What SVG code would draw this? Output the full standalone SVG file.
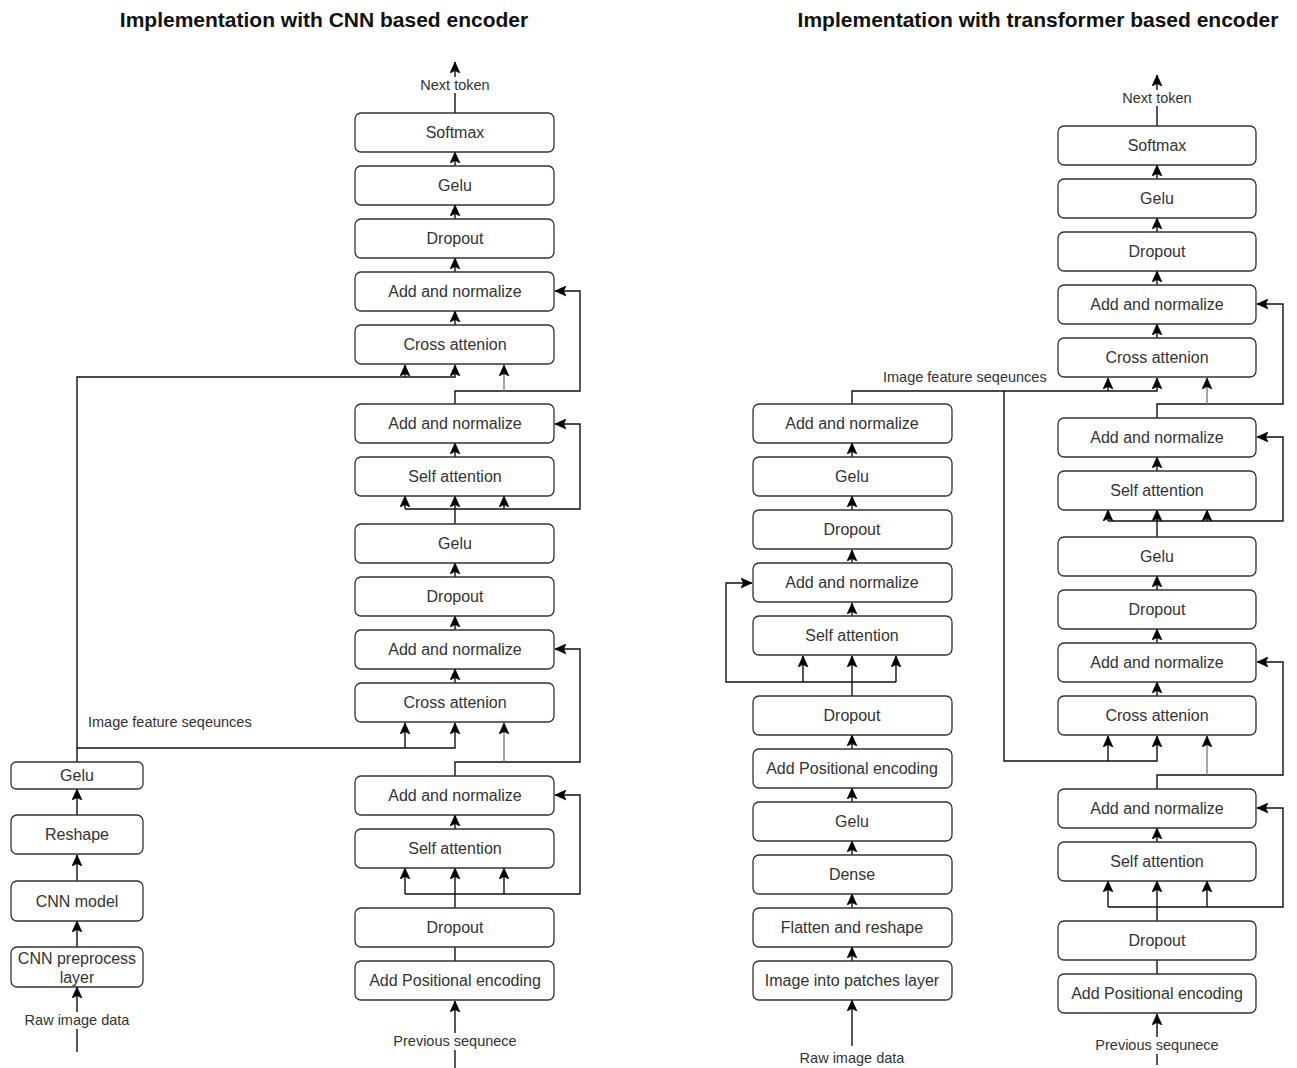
<svg xmlns="http://www.w3.org/2000/svg" width="1297" height="1068" viewBox="0 0 1297 1068">
  <style>
    .box rect { fill: #fff; stroke: #333; stroke-width: 1.3; }
    .box text, .lbl { font-family: "Liberation Sans", Arial, Helvetica, sans-serif; fill: #333; text-anchor: middle; dominant-baseline: central; }
    .box text { font-size: 16px; }
    .lbl { font-size: 14.5px; }
    .title { font-family: "Liberation Sans", Arial, Helvetica, sans-serif; font-size: 21px; font-weight: bold; fill: #111; text-anchor: middle; dominant-baseline: central; }
    .edge { fill: none; stroke: #111; stroke-width: 1.4; }
    .gray { stroke: #808080; }
    .arr { marker-end: url(#ah); }
  </style>
  <defs>
    <marker id="ah" viewBox="0 0 10 10" refX="10" refY="5" markerWidth="11" markerHeight="11" orient="auto" markerUnits="userSpaceOnUse">
      <path d="M0,0.5 L10,5 L0,9.5 L2.2,5 Z" fill="#000" stroke="#000" stroke-width="0.6" stroke-linejoin="miter"/>
    </marker>
  </defs>
  <rect width="1297" height="1068" fill="#fff"/>

  <!-- headings -->
  <text class="title" x="324" y="19">Implementation with CNN based encoder</text>
  <text class="title" x="1038" y="19">Implementation with transformer based encoder</text>

  <!-- connectors -->
  <g id="connectors">
    <!-- CNN encoder stack -->
    <path class="edge arr" d="M77,1052 V987"/>
    <path class="edge arr" d="M77,947 V921"/>
    <path class="edge arr" d="M77,881 V855"/>
    <path class="edge arr" d="M77,815 V789"/>
    <path class="edge arr" d="M77,762 V377 H455 V365"/>
    <path class="edge arr" d="M405,377 V365"/>
    <path class="edge arr" d="M77,748 H455 V723"/>
    <path class="edge arr" d="M405,748 V723"/>

    <!-- CNN decoder stack -->
    <path class="edge arr" d="M455,1068 V1001"/>
    <path class="edge" d="M455,961 V947"/>
    <path class="edge arr" d="M455,908 V868"/>
    <path class="edge arr" d="M405,894 H580 V795 H555"/>
    <path class="edge arr" d="M405,894 V868"/>
    <path class="edge arr" d="M504,894 V868"/>
    <path class="edge arr" d="M455,829 V815"/>
    <path class="edge arr" d="M455,776 V762 H580 V649 H555"/>
    <path class="edge gray arr" d="M504,762 V723"/>
    <path class="edge arr" d="M455,683 V669"/>
    <path class="edge arr" d="M455,630 V616"/>
    <path class="edge arr" d="M455,577 V563"/>
    <path class="edge arr" d="M455,524 V496"/>
    <path class="edge arr" d="M405,509 H580 V424 H555"/>
    <path class="edge arr" d="M405,509 V496"/>
    <path class="edge arr" d="M504,509 V496"/>
    <path class="edge arr" d="M455,457 V443"/>
    <path class="edge arr" d="M455,404 V391 H580 V291 H555"/>
    <path class="edge gray arr" d="M504,391 V365"/>
    <path class="edge arr" d="M455,325 V311"/>
    <path class="edge arr" d="M455,272 V258"/>
    <path class="edge arr" d="M455,219 V205"/>
    <path class="edge arr" d="M455,166 V152"/>
    <path class="edge arr" d="M455,113 V62"/>

    <!-- transformer encoder stack -->
    <path class="edge arr" d="M852,1046 V1000"/>
    <path class="edge arr" d="M852,961 V947"/>
    <path class="edge arr" d="M852,908 V894"/>
    <path class="edge arr" d="M852,855 V841"/>
    <path class="edge arr" d="M852,802 V788"/>
    <path class="edge arr" d="M852,749 V735"/>
    <path class="edge arr" d="M852,696 V656"/>
    <path class="edge arr" d="M896,682 H726 V583 H752"/>
    <path class="edge arr" d="M803,682 V656"/>
    <path class="edge arr" d="M896,682 V656"/>
    <path class="edge arr" d="M852,616 V603"/>
    <path class="edge arr" d="M852,563 V550"/>
    <path class="edge arr" d="M852,510 V496"/>
    <path class="edge arr" d="M852,457 V443"/>
    <path class="edge arr" d="M852,404 V391 H1157 V378"/>
    <path class="edge arr" d="M1108,391 V378"/>
    <path class="edge arr" d="M1004,391 V761 H1157 V736"/>
    <path class="edge arr" d="M1108,761 V736"/>

    <!-- transformer decoder stack -->
    <path class="edge arr" d="M1157,1065 V1014"/>
    <path class="edge" d="M1157,974 V960"/>
    <path class="edge arr" d="M1157,921 V881"/>
    <path class="edge arr" d="M1108,907 H1283 V808 H1257"/>
    <path class="edge arr" d="M1108,907 V881"/>
    <path class="edge arr" d="M1207,907 V881"/>
    <path class="edge arr" d="M1157,842 V828"/>
    <path class="edge arr" d="M1157,789 V775 H1283 V662 H1257"/>
    <path class="edge gray arr" d="M1207,775 V736"/>
    <path class="edge arr" d="M1157,696 V682"/>
    <path class="edge arr" d="M1157,643 V629"/>
    <path class="edge arr" d="M1157,590 V576"/>
    <path class="edge arr" d="M1157,537 V510"/>
    <path class="edge arr" d="M1108,521 H1283 V437 H1257"/>
    <path class="edge arr" d="M1108,521 V510"/>
    <path class="edge arr" d="M1207,521 V510"/>
    <path class="edge arr" d="M1157,471 V457"/>
    <path class="edge arr" d="M1157,418 V404 H1283 V304 H1257"/>
    <path class="edge gray arr" d="M1207,404 V378"/>
    <path class="edge arr" d="M1157,338 V324"/>
    <path class="edge arr" d="M1157,285 V271"/>
    <path class="edge arr" d="M1157,232 V218"/>
    <path class="edge arr" d="M1157,179 V165"/>
    <path class="edge arr" d="M1157,126 V75"/>

    <!-- edge labels -->
    <rect x="418" y="77" width="74" height="16" fill="#fff"/>
    <text class="lbl" x="455" y="85">Next token</text>
    <rect x="391" y="1033" width="128" height="17" fill="#fff"/>
    <text class="lbl" x="455" y="1041">Previous sequnece</text>
    <rect x="22" y="1012" width="110" height="17" fill="#fff"/>
    <text class="lbl" x="77" y="1020">Raw image data</text>
    <text class="lbl" x="88" y="722" style="text-anchor:start">Image feature seqeunces</text>
    <rect x="1120" y="90" width="74" height="16" fill="#fff"/>
    <text class="lbl" x="1157" y="98">Next token</text>
    <rect x="1093" y="1037" width="128" height="17" fill="#fff"/>
    <text class="lbl" x="1157" y="1045">Previous sequnece</text>
    <text class="lbl" x="852" y="1058">Raw image data</text>
    <text class="lbl" x="883" y="377" style="text-anchor:start">Image feature seqeunces</text>
  </g>

  <!-- CNN encoder nodes -->
  <g id="cnn-gelu" class="box"><rect x="11" y="762" width="132" height="27" rx="5"/><text x="77" y="775.5">Gelu</text></g>
  <g id="cnn-reshape" class="box"><rect x="11" y="815" width="132" height="39" rx="6"/><text x="77" y="834.5">Reshape</text></g>
  <g id="cnn-model" class="box"><rect x="11" y="881" width="132" height="40" rx="6"/><text x="77" y="901">CNN model</text></g>
  <g id="cnn-preprocess" class="box"><rect x="11" y="947" width="132" height="40" rx="6"/><text x="77" y="958">CNN preprocess</text><text x="77" y="977">layer</text></g>

  <!-- CNN decoder nodes -->
  <g id="d1-softmax" class="box"><rect x="355" y="113" width="199" height="39" rx="6"/><text x="455" y="132.5">Softmax</text></g>
  <g id="d1-gelu-out" class="box"><rect x="355" y="166" width="199" height="39" rx="6"/><text x="455" y="185.5">Gelu</text></g>
  <g id="d1-dropout-out" class="box"><rect x="355" y="219" width="199" height="39" rx="6"/><text x="455" y="238.5">Dropout</text></g>
  <g id="d1-addnorm-4" class="box"><rect x="355" y="272" width="199" height="39" rx="6"/><text x="455" y="291.5">Add and normalize</text></g>
  <g id="d1-cross-2" class="box"><rect x="355" y="325" width="199" height="39" rx="6"/><text x="455" y="344.5">Cross attenion</text></g>
  <g id="d1-addnorm-3" class="box"><rect x="355" y="404" width="199" height="39" rx="6"/><text x="455" y="423.5">Add and normalize</text></g>
  <g id="d1-self-2" class="box"><rect x="355" y="457" width="199" height="39" rx="6"/><text x="455" y="476.5">Self attention</text></g>
  <g id="d1-gelu" class="box"><rect x="355" y="524" width="199" height="39" rx="6"/><text x="455" y="543.5">Gelu</text></g>
  <g id="d1-dropout-mid" class="box"><rect x="355" y="577" width="199" height="39" rx="6"/><text x="455" y="596.5">Dropout</text></g>
  <g id="d1-addnorm-2" class="box"><rect x="355" y="630" width="199" height="39" rx="6"/><text x="455" y="649.5">Add and normalize</text></g>
  <g id="d1-cross-1" class="box"><rect x="355" y="683" width="199" height="39" rx="6"/><text x="455" y="702.5">Cross attenion</text></g>
  <g id="d1-addnorm-1" class="box"><rect x="355" y="776" width="199" height="39" rx="6"/><text x="455" y="795.5">Add and normalize</text></g>
  <g id="d1-self-1" class="box"><rect x="355" y="829" width="199" height="39" rx="6"/><text x="455" y="848.5">Self attention</text></g>
  <g id="d1-dropout-in" class="box"><rect x="355" y="908" width="199" height="39" rx="6"/><text x="455" y="927.5">Dropout</text></g>
  <g id="d1-posenc" class="box"><rect x="355" y="961" width="199" height="39" rx="6"/><text x="455" y="980.5">Add Positional encoding</text></g>

  <!-- transformer encoder nodes -->
  <g id="enc-addnorm-2" class="box"><rect x="753" y="404" width="199" height="39" rx="6"/><text x="852" y="423.5">Add and normalize</text></g>
  <g id="enc-gelu-2" class="box"><rect x="753" y="457" width="199" height="39" rx="6"/><text x="852" y="476.5">Gelu</text></g>
  <g id="enc-dropout-2" class="box"><rect x="753" y="510" width="199" height="39" rx="6"/><text x="852" y="529.5">Dropout</text></g>
  <g id="enc-addnorm-1" class="box"><rect x="753" y="563" width="199" height="39" rx="6"/><text x="852" y="582.5">Add and normalize</text></g>
  <g id="enc-self" class="box"><rect x="753" y="616" width="199" height="39" rx="6"/><text x="852" y="635.5">Self attention</text></g>
  <g id="enc-dropout-1" class="box"><rect x="753" y="696" width="199" height="39" rx="6"/><text x="852" y="715.5">Dropout</text></g>
  <g id="enc-posenc" class="box"><rect x="753" y="749" width="199" height="39" rx="6"/><text x="852" y="768.5">Add Positional encoding</text></g>
  <g id="enc-gelu-1" class="box"><rect x="753" y="802" width="199" height="39" rx="6"/><text x="852" y="821.5">Gelu</text></g>
  <g id="enc-dense" class="box"><rect x="753" y="855" width="199" height="39" rx="6"/><text x="852" y="874.5">Dense</text></g>
  <g id="enc-flatten" class="box"><rect x="753" y="908" width="199" height="39" rx="6"/><text x="852" y="927.5">Flatten and reshape</text></g>
  <g id="enc-patches" class="box"><rect x="753" y="961" width="199" height="39" rx="6"/><text x="852" y="980.5">Image into patches layer</text></g>

  <!-- transformer decoder nodes -->
  <g id="d2-softmax" class="box"><rect x="1058" y="126" width="198" height="39" rx="6"/><text x="1157" y="145.5">Softmax</text></g>
  <g id="d2-gelu-out" class="box"><rect x="1058" y="179" width="198" height="39" rx="6"/><text x="1157" y="198.5">Gelu</text></g>
  <g id="d2-dropout-out" class="box"><rect x="1058" y="232" width="198" height="39" rx="6"/><text x="1157" y="251.5">Dropout</text></g>
  <g id="d2-addnorm-4" class="box"><rect x="1058" y="285" width="198" height="39" rx="6"/><text x="1157" y="304.5">Add and normalize</text></g>
  <g id="d2-cross-2" class="box"><rect x="1058" y="338" width="198" height="39" rx="6"/><text x="1157" y="357.5">Cross attenion</text></g>
  <g id="d2-addnorm-3" class="box"><rect x="1058" y="418" width="198" height="39" rx="6"/><text x="1157" y="437.5">Add and normalize</text></g>
  <g id="d2-self-2" class="box"><rect x="1058" y="471" width="198" height="39" rx="6"/><text x="1157" y="490.5">Self attention</text></g>
  <g id="d2-gelu" class="box"><rect x="1058" y="537" width="198" height="39" rx="6"/><text x="1157" y="556.5">Gelu</text></g>
  <g id="d2-dropout-mid" class="box"><rect x="1058" y="590" width="198" height="39" rx="6"/><text x="1157" y="609.5">Dropout</text></g>
  <g id="d2-addnorm-2" class="box"><rect x="1058" y="643" width="198" height="39" rx="6"/><text x="1157" y="662.5">Add and normalize</text></g>
  <g id="d2-cross-1" class="box"><rect x="1058" y="696" width="198" height="39" rx="6"/><text x="1157" y="715.5">Cross attenion</text></g>
  <g id="d2-addnorm-1" class="box"><rect x="1058" y="789" width="198" height="39" rx="6"/><text x="1157" y="808.5">Add and normalize</text></g>
  <g id="d2-self-1" class="box"><rect x="1058" y="842" width="198" height="39" rx="6"/><text x="1157" y="861.5">Self attention</text></g>
  <g id="d2-dropout-in" class="box"><rect x="1058" y="921" width="198" height="39" rx="6"/><text x="1157" y="940.5">Dropout</text></g>
  <g id="d2-posenc" class="box"><rect x="1058" y="974" width="198" height="39" rx="6"/><text x="1157" y="993.5">Add Positional encoding</text></g>
</svg>
